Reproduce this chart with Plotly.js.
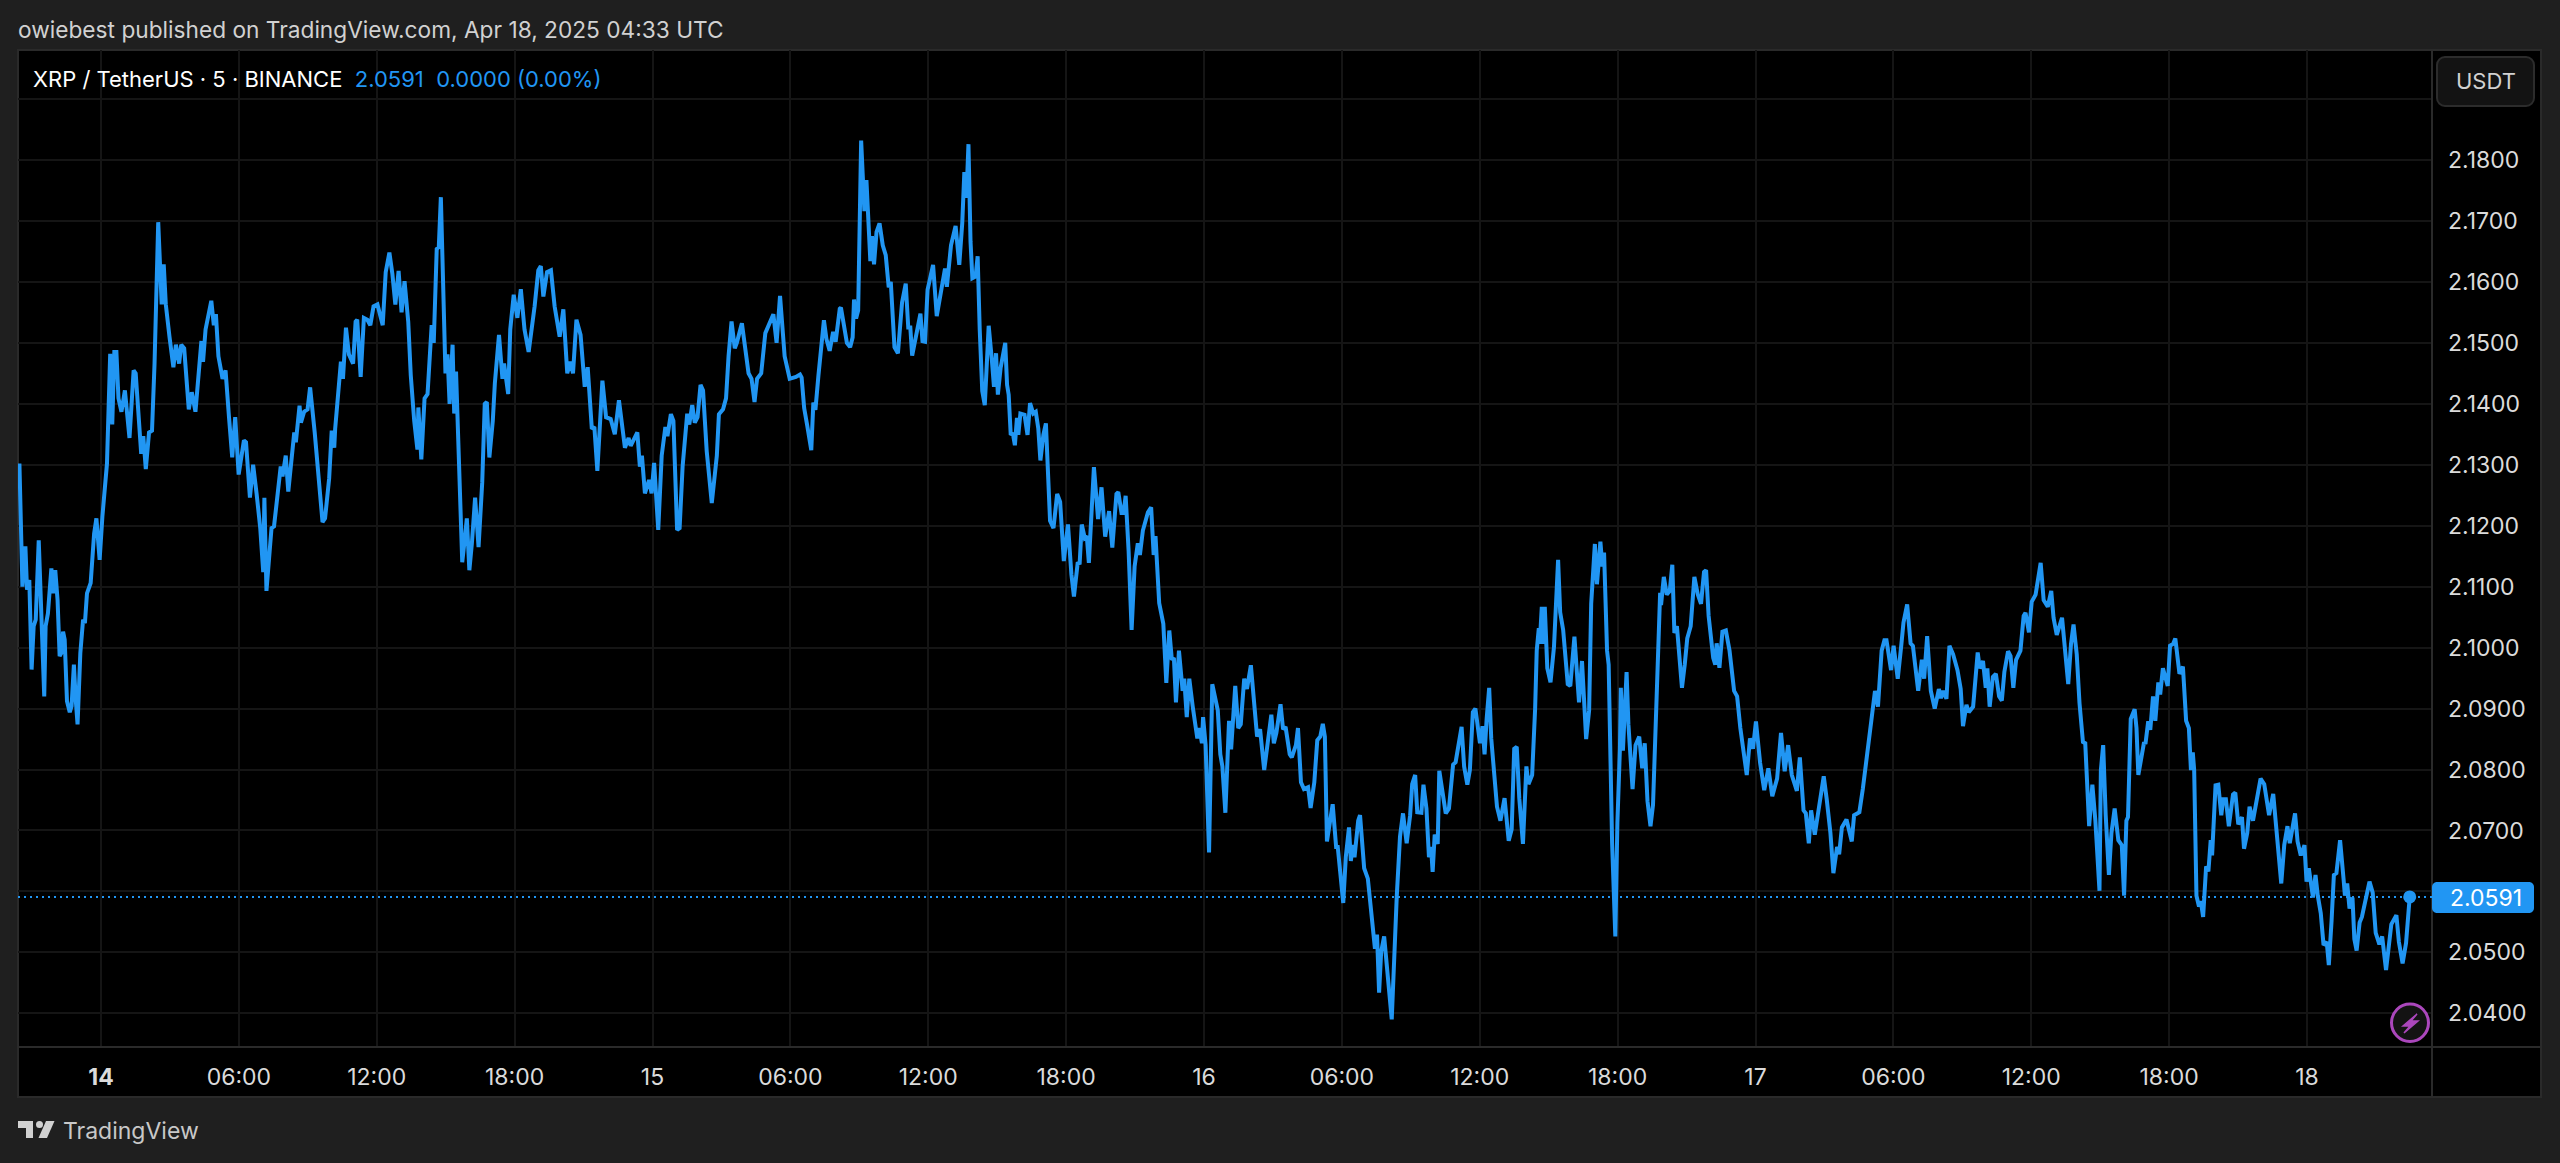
<!DOCTYPE html>
<html><head><meta charset="utf-8">
<script src="https://cdn.plot.ly/plotly-3.0.1.min.js"></script>
<style>html,body{margin:0;padding:0;background:#1f1f1f;overflow:hidden}</style>
</head><body><div id="chart" style="width:2560px;height:1163px"></div>
<script>
// hours since Apr 14 00:00 UTC
const hours = [-3.55,-3.42,-3.29,-3.22,-3.12,-3.02,-2.93,-2.84,-2.71,-2.63,-2.47,-2.41,-2.31,-2.16,-2.07,-1.99,-1.89,-1.80,-1.73,-1.65,-1.58,-1.48,-1.36,-1.28,-1.18,-1.10,-1.02,-0.90,-0.78,-0.70,-0.61,-0.45,-0.30,-0.20,-0.06,0.06,0.26,
0.40,0.49,0.58,0.67,0.76,0.89,1.04,1.24,1.42,1.51,1.75,1.84,1.95,2.09,2.22,2.33,2.49,2.58,2.64,2.73,2.82,2.98,3.15,3.26,3.40,3.49,3.62,3.82,3.95,4.11,4.37,4.44,4.55,4.80,4.91,5.00,5.11,5.29,5.42,5.57,5.71,5.84,5.99,6.22,6.31,6.48,6.62,6.77,6.93,7.06,7.11,7.20,7.33,7.42,7.53,7.82,7.90,8.04,8.15,8.30,8.41,8.48,8.64,8.70,8.84,8.99,9.10,9.30,9.48,9.64,9.75,9.93,10.04,10.15,10.19,10.44,10.53,10.66,10.79,10.97,11.08,11.15,11.30,11.44,11.59,11.72,11.86,12.03,12.26,12.39,12.55,12.68,12.81,12.95,13.08,13.21,13.37,13.48,13.63,13.77,13.81,13.94,14.08,14.21,14.39,14.48,14.61,14.70,14.79,14.88,14.99,15.08,15.17,15.30,15.37,15.45,15.54,15.61,15.72,15.81,15.92,16.03,16.14,16.28,16.43,16.59,16.70,16.79,16.90,17.05,17.14,17.32,17.47,17.54,17.72,17.81,17.96,18.12,18.27,18.43,18.61,18.87,19.03,19.14,19.25,19.41,19.58,19.74,19.96,20.12,20.29,20.43,20.54,20.69,20.87,21.05,21.18,21.36,21.47,21.60,21.82,21.98,22.18,22.36,22.54,22.80,22.96,23.05,23.34,23.45,23.54,23.67,23.85,23.96,
24.07,24.25,24.40,24.56,24.65,24.80,24.91,25.07,25.18,25.31,25.51,25.60,25.73,25.84,25.96,26.09,26.20,26.36,26.47,26.58,26.80,26.89,27.07,27.20,27.31,27.44,27.58,27.67,27.89,28.06,28.18,28.31,28.44,28.55,28.73,28.91,29.13,29.26,29.40,29.55,29.75,29.97,30.24,30.42,30.49,30.60,30.73,30.91,31.00,31.09,31.22,31.46,31.57,31.71,31.86,31.97,32.15,32.20,32.46,32.60,32.71,32.77,32.86,32.95,33.08,33.22,33.31,33.42,33.48,33.55,33.64,33.75,33.88,34.02,34.15,34.28,34.37,34.53,34.68,34.86,35.02,35.13,35.22,35.30,35.44,35.66,35.75,35.86,35.97,36.21,36.37,36.55,36.73,36.81,36.99,37.19,37.35,37.48,37.57,37.66,37.75,37.84,37.92,38.06,38.15,38.24,38.35,38.46,38.63,38.77,38.86,38.95,39.03,39.15,39.35,39.43,39.50,39.59,39.68,39.77,39.86,39.92,40.01,40.19,40.32,40.43,40.57,40.68,40.79,40.88,41.01,41.12,41.30,41.45,41.61,41.74,41.90,42.08,42.23,42.34,42.50,42.59,42.68,42.81,42.90,42.99,43.21,43.39,43.54,43.70,43.87,44.01,44.19,44.27,44.41,44.50,44.59,44.72,44.85,44.98,45.12,45.21,45.34,45.56,45.70,45.81,45.89,46.05,46.23,46.36,
46.49,46.60,46.69,46.78,46.91,47.07,47.14,47.25,47.36,47.51,47.71,47.80,47.91,47.96,48.07,48.22,48.36,48.60,48.71,48.80,48.93,49.09,49.18,49.36,49.49,49.60,49.75,49.87,50.04,50.31,50.44,50.62,50.93,51.04,51.15,51.33,51.44,51.55,51.73,51.82,52.00,52.09,52.22,52.35,52.53,52.64,52.80,52.93,53.06,53.17,53.26,53.35,53.44,53.60,53.75,53.82,54.06,54.17,54.31,54.39,54.48,54.55,54.71,54.79,54.97,55.13,55.44,55.53,55.62,55.71,55.84,56.17,56.39,56.53,56.66,56.82,56.97,57.06,57.19,57.28,57.46,57.55,57.68,57.79,57.88,57.95,58.04,58.17,58.24,58.39,58.52,58.66,58.84,58.95,59.21,59.32,59.46,59.57,59.70,59.81,60.01,60.12,60.21,60.30,60.41,60.50,60.75,60.90,61.08,61.26,61.39,61.50,61.61,61.72,61.88,62.03,62.12,62.28,62.41,62.48,62.57,62.61,62.70,62.77,62.83,62.94,63.08,63.23,63.41,63.50,63.63,63.83,63.94,64.12,64.32,64.45,64.63,64.76,64.85,65.01,65.10,65.25,65.34,65.41,65.54,65.61,65.70,65.76,65.90,65.99,66.10,66.14,66.23,66.39,66.47,66.65,66.78,66.94,67.07,67.18,67.30,67.43,67.54,67.63,67.76,67.85,67.89,68.01,68.14,68.27,68.38,68.47,68.58,68.80,68.92,69.03,69.18,69.34,69.49,69.63,69.76,69.85,69.96,70.16,70.25,70.31,70.43,70.56,70.71,70.87,71.07,71.20,71.34,71.62,71.76,71.89,72.02,72.20,72.38,72.56,72.73,72.94,73.11,73.27,73.42,73.58,73.80,73.93,
74.09,74.19,74.32,74.42,74.58,74.77,74.97,75.10,75.26,75.39,75.55,75.64,75.76,75.96,76.19,76.29,76.52,76.67,76.85,77.04,77.20,77.33,77.49,77.61,77.70,77.90,78.01,78.19,78.35,78.44,78.60,78.75,78.85,79.08,79.24,79.34,79.47,79.63,79.80,79.98,80.07,80.17,80.31,80.44,80.60,80.79,80.93,81.03,81.18,81.28,81.47,81.67,81.76,81.90,82.02,82.09,82.19,82.33,82.46,82.60,82.72,82.83,82.99,83.10,83.22,83.34,83.53,83.67,83.75,83.90,84.02,84.19,84.41,84.54,84.72,84.87,84.97,85.11,85.34,85.49,85.61,85.73,85.84,85.98,86.10,86.25,86.35,86.52,86.66,86.79,86.97,87.03,87.13,87.24,87.38,87.49,87.63,87.79,87.94,88.04,88.14,88.21,88.33,88.50,88.58,88.66,88.80,88.91,88.97,89.09,89.18,89.30,89.40,89.53,89.61,89.73,89.94,90.04,90.17,90.27,90.45,90.60,90.74,90.86,90.95,91.03,91.09,91.19,91.30,91.38,91.48,91.61,91.71,91.81,91.87,92.02,92.14,92.27,92.35,92.47,92.60,92.78,92.88,93.01,93.17,93.26,93.40,93.50,93.65,93.85,93.98,94.14,94.35,94.53,94.68,94.88,95.01,95.15,95.25,95.48,95.59,95.73,95.89,95.98,96.08,96.18,96.26,96.37,96.47,96.60,96.72,96.86,96.95,97.07,97.17,97.28,97.44,97.59,97.65,97.75,97.85,97.98,98.06,98.16,98.29,98.39,98.51,98.72,98.86,98.99,99.15,99.27,99.44,99.67,99.89,100.00,100.16,100.31,100.47];
const prices = [2.1302,2.1100,2.1166,2.1095,2.1111,2.0964,2.1035,2.1046,2.1176,2.1100,2.0920,2.1035,2.1056,2.1130,2.1089,2.1127,2.1078,2.0986,2.0991,2.1026,2.1013,2.0912,2.0894,2.0904,2.0972,2.0915,2.0874,2.0991,2.1046,2.1040,2.1089,2.1106,2.1187,2.1212,2.1144,2.1215,2.1302,
2.1482,2.1366,2.1485,2.1485,2.1409,2.1387,2.1422,2.1344,2.1455,2.1450,2.1318,2.1347,2.1293,2.1353,2.1356,2.1466,2.1698,2.1623,2.1563,2.1629,2.1563,2.1510,2.1460,2.1497,2.1466,2.1497,2.1491,2.1391,2.1419,2.1387,2.1503,2.1469,2.1522,2.1569,2.1529,2.1547,2.1478,2.1441,2.1455,2.1378,2.1312,2.1378,2.1284,2.1340,2.1337,2.1246,2.1300,2.1253,2.1196,2.1124,2.1246,2.1093,2.1146,2.1196,2.1199,2.1297,2.1281,2.1315,2.1256,2.1318,2.1353,2.1337,2.1397,2.1369,2.1387,2.1391,2.1427,2.1353,2.1271,2.1206,2.1212,2.1278,2.1356,2.1328,2.1359,2.1469,2.1441,2.1525,2.1481,2.1466,2.1535,2.1538,2.1444,2.1541,2.1538,2.1529,2.1560,2.1563,2.1529,2.1616,2.1648,2.1613,2.1563,2.1618,2.1550,2.1601,2.1535,2.1447,2.1372,2.1325,2.1394,2.1309,2.1409,2.1416,2.1529,2.1500,2.1654,2.1657,2.1739,2.1623,2.1450,2.1481,2.1400,2.1497,2.1384,2.1453,2.1344,2.1278,2.1140,2.1171,2.1212,2.1127,2.1171,2.1246,2.1165,2.1271,2.1400,2.1403,2.1312,2.1372,2.1434,2.1513,2.1441,2.1466,2.1416,2.1522,2.1579,2.1541,2.1588,2.1522,2.1485,2.1560,2.1619,2.1626,2.1576,2.1616,2.1619,2.1560,2.1510,2.1555,2.1450,2.1469,2.1450,2.1538,2.1513,2.1428,2.1460,2.1359,2.1362,2.1290,2.1438,2.1378,2.1375,2.1350,2.1406,2.1328,2.1344,2.1331,2.1353,2.1297,2.1315,2.1253,2.1275,2.1253,
2.1303,2.1193,2.1315,2.1362,2.1347,2.1383,2.1372,2.1193,2.1196,2.1297,2.1384,2.1366,2.1398,2.1369,2.1378,2.1431,2.1422,2.1322,2.1271,2.1237,2.1315,2.1383,2.1391,2.1409,2.1478,2.1535,2.1491,2.1500,2.1532,2.1478,2.1450,2.1441,2.1403,2.1441,2.1450,2.1516,2.1535,2.1547,2.1500,2.1577,2.1478,2.1441,2.1444,2.1448,2.1443,2.1393,2.1365,2.1324,2.1402,2.1390,2.1446,2.1537,2.1506,2.1487,2.1518,2.1502,2.1556,2.1558,2.1500,2.1493,2.1509,2.1571,2.1540,2.1553,2.1832,2.1716,2.1767,2.1685,2.1634,2.1675,2.1629,2.1682,2.1696,2.1660,2.1644,2.1591,2.1600,2.1493,2.1483,2.1566,2.1597,2.1525,2.1525,2.1479,2.1506,2.1548,2.1503,2.1502,2.1587,2.1628,2.1544,2.1581,2.1622,2.1592,2.1660,2.1692,2.1628,2.1697,2.1780,2.1738,2.1826,2.1666,2.1606,2.1609,2.1642,2.1522,2.1421,2.1398,2.1528,2.1471,2.1428,2.1483,2.1415,2.1459,2.1500,2.1431,2.1415,2.1349,2.1352,2.1332,2.1377,2.1349,2.1384,2.1382,2.1349,2.1401,2.1384,2.1387,2.1359,2.1307,2.1349,2.1368,2.1208,2.1196,2.1252,2.1239,2.1142,2.1202,2.1120,2.1084,2.1138,2.1139,2.1202,2.1180,2.1183,2.1139,2.1296,2.1211,2.1263,2.1182,2.1224,2.1164,2.1252,2.1255,2.1221,2.1221,2.1249,2.1158,2.1029,2.1133,2.1171,2.1152,2.1192,2.1222,2.1230,2.1152,2.1183,2.1073,2.1039,2.0942,
2.1028,2.0980,2.0983,2.0910,2.0995,2.0929,2.0949,2.0886,2.0949,2.0903,2.0851,2.0868,2.0843,2.0886,2.0840,2.0664,2.0940,2.0897,2.0825,2.0805,2.0729,2.0880,2.0833,2.0937,2.0868,2.0874,2.0949,2.0932,2.0971,2.0854,2.0866,2.0799,2.0890,2.0843,2.0860,2.0907,2.0866,2.0870,2.0825,2.0820,2.0840,2.0868,2.0779,2.0768,2.0771,2.0737,2.0779,2.0848,2.0854,2.0875,2.0854,2.0682,2.0705,2.0743,2.0673,2.0673,2.0581,2.0656,2.0705,2.0650,2.0676,2.0656,2.0716,2.0725,2.0638,2.0621,2.0506,2.0529,2.0434,2.0501,2.0526,2.0390,2.0593,2.0690,2.0728,2.0679,2.0725,2.0776,2.0791,2.0730,2.0729,2.0775,2.0736,2.0656,2.0673,2.0632,2.0693,2.0678,2.0798,2.0762,2.0728,2.0736,2.0808,2.0812,2.0870,2.0805,2.0775,2.0799,2.0894,2.0900,2.0843,2.0871,2.0825,2.0883,2.0934,2.0851,2.0739,2.0716,2.0753,2.0683,2.0702,2.0834,2.0837,2.0753,2.0678,2.0805,2.0776,2.0791,2.0900,2.0995,2.1032,2.1006,2.1067,2.1006,2.1067,2.0966,2.0943,2.1001,2.1144,2.1058,2.1029,2.0940,2.0937,2.1018,2.0910,2.0978,2.0850,2.0897,2.1072,2.1170,2.1104,2.1174,2.1133,2.1156,2.0995,2.0972,2.0753,2.0679,2.0526,2.0713,2.0834,2.0934,2.0831,2.0960,2.0874,2.0768,2.0840,2.0854,2.0802,2.0843,2.0748,2.0707,2.0742,2.0840,2.0983,2.1090,2.1070,2.1116,2.1087,2.1093,2.1136,2.1024,2.1035,2.0934,2.0972,2.1015,2.1035,2.1116,2.1087,2.1072,2.1124,2.1127,2.1052,2.0983,2.0972,2.1007,2.0967,2.1026,2.1028,2.0995,2.0929,2.0920,2.0868,2.0791,2.0851,2.0834,2.0879,2.0811,2.0766,2.0802,2.0756,2.0785,2.0860,2.0797,2.0840,2.0791,2.0765,2.0820,
2.0733,2.0728,2.0679,2.0733,2.0693,2.0739,2.0789,2.0751,2.0696,2.0630,2.0673,2.0661,2.0705,2.0718,2.0682,2.0725,2.0730,2.0768,2.0817,2.0880,2.0929,2.0903,2.0995,2.1012,2.1012,2.0963,2.1003,2.0949,2.1006,2.1041,2.1071,2.1007,2.1003,2.0929,2.0980,2.0949,2.1019,2.0929,2.0900,2.0932,2.0917,2.0929,2.0916,2.1003,2.0989,2.0963,2.0932,2.0871,2.0906,2.0894,2.0903,2.0992,2.0966,2.0978,2.0934,2.0966,2.0903,2.0952,2.0957,2.0920,2.0913,2.0960,2.0994,2.0986,2.0934,2.0980,2.0995,2.1052,2.1057,2.1025,2.1075,2.1087,2.1139,2.1078,2.1067,2.1093,2.1049,2.1021,2.1049,2.0989,2.0940,2.1006,2.1038,2.0989,2.0909,2.0845,2.0843,2.0707,2.0775,2.0716,2.0601,2.0799,2.0840,2.0725,2.0627,2.0696,2.0736,2.0684,2.0676,2.0593,2.0716,2.0722,2.0883,2.0899,2.0868,2.0791,2.0817,2.0845,2.0842,2.0879,2.0865,2.0920,2.0880,2.0943,2.0923,2.0966,2.0937,2.1003,2.1006,2.1015,2.0957,2.0969,2.0880,2.0868,2.0799,2.0828,2.0799,2.0593,2.0575,2.0584,2.0558,2.0641,2.0633,2.0684,2.0659,2.0774,2.0775,2.0725,2.0751,2.0751,2.0707,2.0759,2.0762,2.0710,2.0722,2.0670,2.0696,2.0739,2.0716,2.0753,2.0785,2.0776,2.0725,2.0760,2.0702,2.0613,2.0676,2.0707,2.0679,2.0728,2.0682,2.0659,2.0676,2.0616,2.0638,2.0613,2.0590,2.0627,2.0593,2.0564,2.0512,2.0517,2.0479,2.0552,2.0627,2.0630,2.0684,2.0621,2.0593,2.0613,2.0572,2.0590,2.0522,2.0503,2.0549,2.0558,2.0581,2.0616,2.0598,2.0532,2.0513,2.0526,2.0471,2.0546,2.0561,2.0517,2.0482,2.0515,2.0591];
const timeTicks = [0,6,12,18,24,30,36,42,48,54,60,66,72,78,84,90,96];
const timeLabels = ['<b>14</b>','06:00','12:00','18:00','15','06:00','12:00','18:00','16','06:00','12:00','18:00','17','06:00','12:00','18:00','18'];
const priceTicks = [2.04,2.05,2.06,2.07,2.08,2.09,2.10,2.11,2.12,2.13,2.14,2.15,2.16,2.17,2.18,2.19];
const priceLabels = ['2.0400','2.0500','','2.0700','2.0800','2.0900','2.1000','2.1100','2.1200','2.1300','2.1400','2.1500','2.1600','2.1700','2.1800',''];
const lastPrice = 2.0591;
const publishedText = 'owiebest published on TradingView.com, Apr 18, 2025 04:33 UTC';
const symbolText = 'XRP / TetherUS · 5 · BINANCE';
const quoteText = '2.0591  0.0000 (0.00%)';

const W=2560,H=1163,L=18,R=2432,T=50,B=1047;
const BLUE='#2196f3', FONT='Inter, "Liberation Sans", sans-serif';
const px=x=>(x-L)/(R-L), py=y=>1-(y-T)/(B-T);
const poly=(pts,close=true)=>'M'+pts.map(p=>px(p[0])+','+py(p[1])).join('L')+(close?'Z':'');
function rrect(x0,y0,x1,y1,r){
  const k=0.45*r;
  const c=(a,b,c2,d,e,f)=>`C${px(a)},${py(b)} ${px(c2)},${py(d)} ${px(e)},${py(f)}`;
  return `M${px(x0+r)},${py(y0)}L${px(x1-r)},${py(y0)}`+c(x1-k,y0,x1,y0+k,x1,y0+r)+
    `L${px(x1)},${py(y1-r)}`+c(x1,y1-k,x1-k,y1,x1-r,y1)+`L${px(x0+r)},${py(y1)}`+
    c(x0+k,y1,x0,y1-k,x0,y1-r)+`L${px(x0)},${py(y0+r)}`+c(x0,y0+k,x0+k,y0,x0+r,y0)+'Z';
}
const pshape=(o)=>Object.assign({type:'path',xref:'paper',yref:'paper'},o);
const rect=(x0,y0,x1,y1,fill,line)=>({type:'rect',xref:'paper',yref:'paper',x0:px(x0),x1:px(x1),y0:py(y0),y1:py(y1),fillcolor:fill,line:line||{width:0},layer:'below'});

const shapes=[
  rect(18,50,2541,1097,'#000000',{color:'#2a2a2a',width:2}),
  {type:'line',xref:'paper',yref:'paper',x0:1,x1:1,y0:py(50),y1:py(1097),line:{color:'#2a2a2a',width:2},layer:'above'},
  {type:'line',xref:'paper',yref:'paper',x0:0,x1:px(2541),y0:0,y1:0,line:{color:'#2a2a2a',width:2},layer:'above'},
  {type:'line',xref:'paper',yref:'y',x0:0,x1:1,y0:lastPrice,y1:lastPrice,line:{color:BLUE,width:2,dash:'2px,4px'},layer:'above'},
  pshape({path:rrect(2437,57,2534,106,8),fillcolor:'#131313',line:{color:'#2c2c2c',width:2},layer:'above'}),
  pshape({path:rrect(2432,882,2534,913,5),fillcolor:BLUE,line:{width:0},layer:'above'}),
  {type:'circle',xref:'paper',yref:'paper',x0:px(2391.5),x1:px(2428.5),y0:py(1004),y1:py(1041.5),fillcolor:'#131313',line:{color:'#ab47bc',width:3},layer:'above'},
  pshape({path:poly([[2417,1014],[2403,1026],[2410,1026],[2404,1033],[2418,1021],[2411,1021]]),fillcolor:'#ab47bc',line:{color:'#ab47bc',width:1.5},layer:'above'}),
  pshape({path:poly([[18,1121],[33,1121],[33,1138],[26,1138],[26,1128],[18,1128]]),fillcolor:'#d1d1d1',line:{width:0},layer:'above'}),
  {type:'circle',xref:'paper',yref:'paper',x0:px(36),x1:px(43),y0:py(1121),y1:py(1128),fillcolor:'#d1d1d1',line:{width:0},layer:'above'},
  pshape({path:poly([[46,1121],[54.5,1121],[47,1138],[38.5,1138]]),fillcolor:'#d1d1d1',line:{width:0},layer:'above'})
];
const ann=(x,y,text,size,color,anchor)=>({xref:'paper',yref:'paper',x:px(x),y:py(y),text,showarrow:false,xanchor:anchor||'left',yanchor:'middle',font:{family:FONT,size,color}});
const annotations=[
  ann(16,30,publishedText,22.7,'#d1d1d1'),
  ann(31,79,`${symbolText}  <span style="color:${BLUE}">${quoteText.replace(/  /,'&nbsp;&nbsp;')}</span>`,22,'#ffffff'),
  ann(2486,81,'USDT',22,'#d1d1d1','center'),
  ann(2486,898,lastPrice.toFixed(4),23,'#ffffff','center'),
  ann(61,1131,'TradingView',23,'#c8c8c8')
];
const grid='#151515';
Plotly.newPlot('chart',[
  {x:hours,y:prices,type:'scatter',mode:'lines',line:{color:BLUE,width:4,shape:'linear'},hoverinfo:'skip'},
  {x:[hours[hours.length-1]],y:[lastPrice],type:'scatter',mode:'markers',marker:{color:BLUE,size:13},hoverinfo:'skip'}
],{
  width:W,height:H,showlegend:false,hovermode:false,
  paper_bgcolor:'#1f1f1f',plot_bgcolor:'#000000',
  margin:{l:L,r:W-R,t:T,b:H-B,pad:0},
  xaxis:{range:[-3.612,101.44],tickmode:'array',tickvals:timeTicks,ticktext:timeLabels,showgrid:true,gridcolor:grid,gridwidth:2,zeroline:false,showline:false,ticks:'',ticklabelstandoff:14,tickfont:{family:FONT,size:23,color:'#dbdbdb'},tickangle:0},
  yaxis:{side:'right',range:[2.03447,2.19805],tickmode:'array',tickvals:priceTicks,ticktext:priceLabels,showgrid:true,gridcolor:grid,gridwidth:2,zeroline:false,showline:false,ticks:'',ticklabelstandoff:15,tickfont:{family:FONT,size:23,color:'#dbdbdb'}},
  shapes,annotations
},{displayModeBar:false,staticPlot:true});
</script></body></html>
